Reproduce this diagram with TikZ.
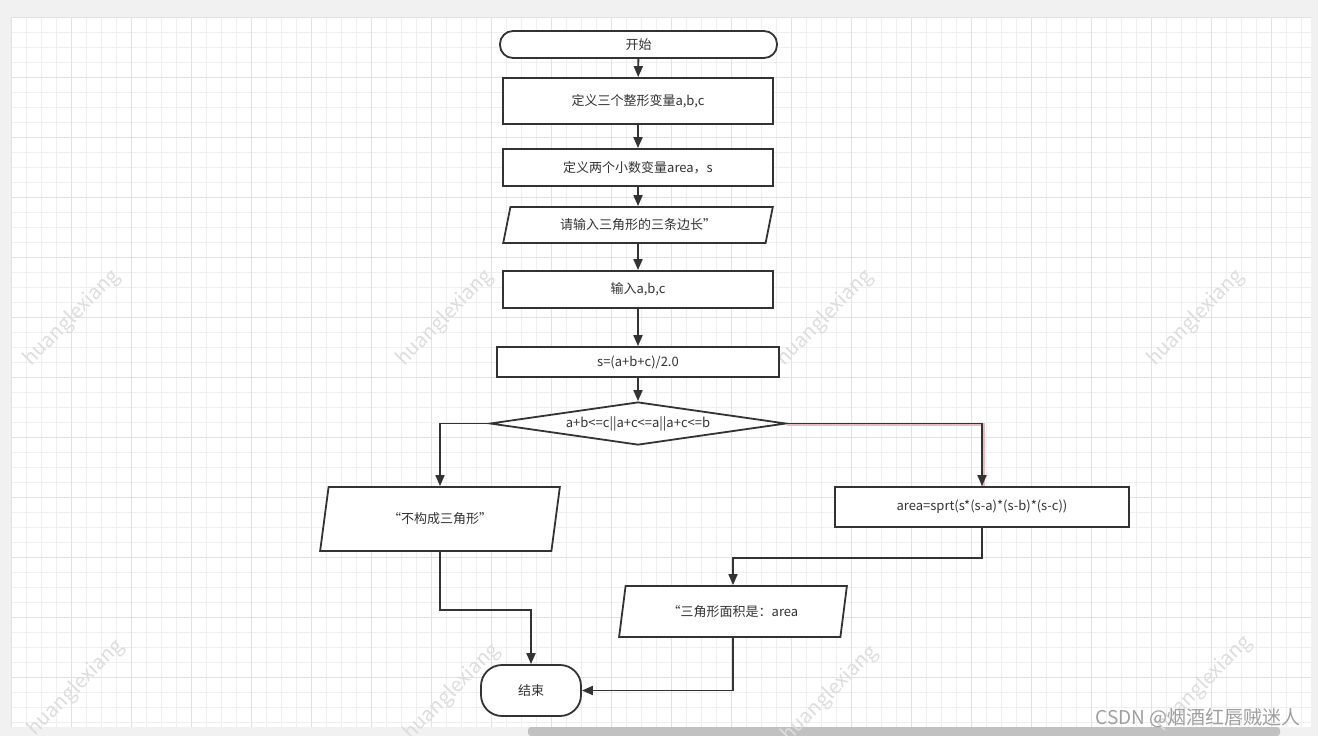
\documentclass[tikz,border=0pt]{standalone}
\usepackage{fontspec}
\setmainfont{Noto Sans CJK SC}
\usetikzlibrary{shapes.geometric,arrows.meta}
\definecolor{ln}{HTML}{333333}
\definecolor{outer}{HTML}{F1F1F1}
\definecolor{gminor}{HTML}{EFEFEF}
\definecolor{gmajor}{HTML}{E2E2E2}
\definecolor{wm}{HTML}{DDDDDD}
\definecolor{sbar}{HTML}{C1C1C1}
\definecolor{halo}{HTML}{E6BDBD}
\begin{document}
\begin{tikzpicture}[x=1pt,y=-1pt,
  every node/.style={font=\fontsize{13}{15}\selectfont, text=ln},
  proc/.style={draw=ln, line width=1.8pt, fill=white, rectangle, inner sep=0pt},
  term/.style={proc, rounded corners=13pt},
  io/.style={proc, trapezium, trapezium left angle=72, trapezium right angle=108, trapezium stretches=true},
  decision/.style={proc, diamond, aspect=6.9},
  flow/.style={draw=ln, line width=1.8pt, -{Triangle[length=11pt,width=9pt]}},
  wmark/.style={rotate=45, text=wm, font=\fontsize{20}{20}\selectfont}]
\useasboundingbox (0,0) rectangle (1318,736);
% page background and canvas
\fill[outer] (0,0) rectangle (1318,736);
\fill[white] (11,17) rectangle (1311,727);
\foreach \x in {11,26,...,1311} \draw[gminor, line width=0.8pt] (\x,17) -- (\x,727);
\foreach \y in {17,32,...,727} \draw[gminor, line width=0.8pt] (11,\y) -- (1311,\y);
\foreach \x in {11,71,...,1311} \draw[gmajor, line width=0.9pt] (\x,17) -- (\x,727);
\foreach \y in {17,77,...,727} \draw[gmajor, line width=0.9pt] (11,\y) -- (1311,\y);
\fill[sbar, rounded corners=3pt] (528,727) rectangle (1280,736);
% watermarks
\node[wmark] (wm1) at (72,318) {huanglexiang};
\node[wmark] (wm2) at (445,318) {huanglexiang};
\node[wmark] (wm3) at (825,318) {huanglexiang};
\node[wmark] (wm4) at (1196,318) {huanglexiang};
\node[wmark] (wm5) at (76,688) {huanglexiang};
\node[wmark] (wm6) at (452,692) {huanglexiang};
\node[wmark] (wm7) at (830,694) {huanglexiang};
\node[wmark] (wm8) at (1204,684) {huanglexiang};
% nodes
\node[term, minimum width=277pt, minimum height=27pt] (start) at (638.5,44.5) {开始};
\node[proc, minimum width=270pt, minimum height=46pt] (def1) at (638,101) {定义三个整形变量a,b,c};
\node[proc, minimum width=270pt, minimum height=37pt] (def2) at (638,167.5) {定义两个小数变量area，s};
\node[io, minimum width=270pt, minimum height=36pt, trapezium left angle=70, trapezium right angle=110] (prompt) at (638,225) {请输入三角形的三条边长”};
\node[proc, minimum width=270pt, minimum height=37pt] (input) at (638,289.5) {输入a,b,c};
\node[proc, minimum width=282pt, minimum height=30pt] (sbox) at (638,362) {s=(a+b+c)/2.0};
\node[decision, minimum width=296pt, minimum height=43pt] (cond) at (638,423.5) {a+b<=c||a+c<=a||a+c<=b};
\node[io, minimum width=240pt, minimum height=64pt] (notri) at (440,519) {“不构成三角形”};
\node[proc, minimum width=294pt, minimum height=40pt] (area) at (982,507) {area=sprt(s*(s-a)*(s-b)*(s-c))};
\node[io, minimum width=228pt, minimum height=51pt] (out) at (733,611.5) {“三角形面积是：area};
\node[term, rounded corners=21pt, minimum width=100pt, minimum height=51pt] (end) at (531,690.5) {结束};
% connectors
\draw[flow] (start) -- (def1);
\draw[flow] (def1) -- (def2);
\draw[flow] (def2) -- (prompt);
\draw[flow] (prompt) -- (input);
\draw[flow] (input) -- (sbox);
\draw[flow] (sbox) -- (cond);
\draw[flow] (cond.west) -| (notri.north);
\draw[halo, line width=3.6pt] ([yshift=-1pt]cond.east) -| ([xshift=1pt]area.north);
\draw[flow] (cond.east) -| (area.north);
\draw[flow] (notri.south) -- ++(0,58) -| (end.north);
\draw[flow] (area.south) -- ++(0,30) -| (out.north);
\draw[flow] (out.south) |- (end.east);
% site watermark
\node[anchor=east, text=gray!75, font=\fontsize{19}{19}\selectfont] (csdn) at (1304,718) {CSDN @烟酒红唇贼迷人};
\end{tikzpicture}
\end{document}
